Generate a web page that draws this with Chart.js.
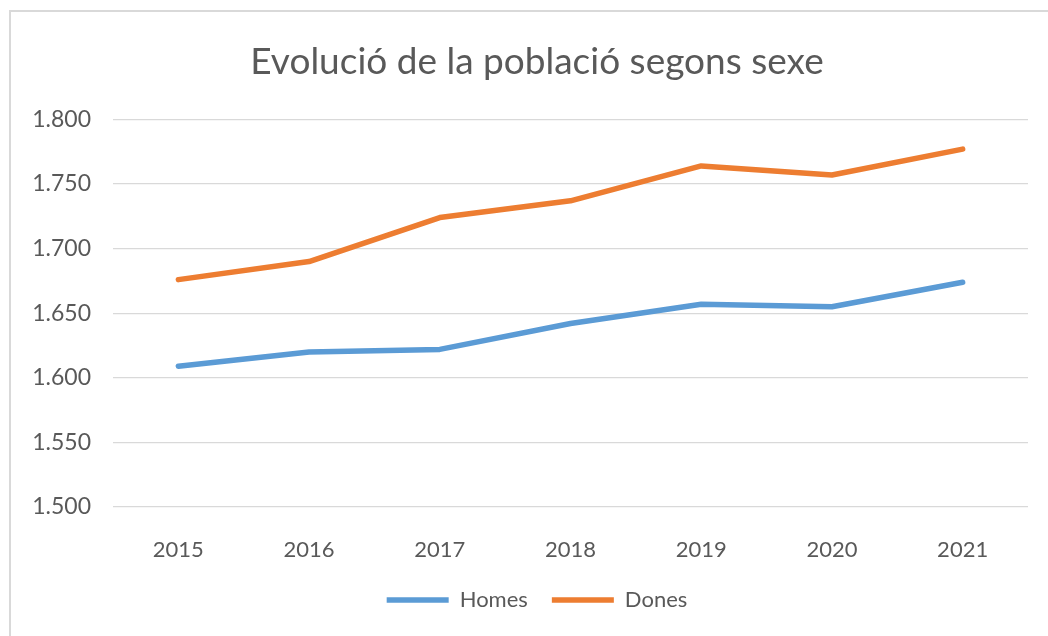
<!DOCTYPE html>
<html>
<head>
<meta charset="utf-8">
<script src="https://cdn.jsdelivr.net/npm/chart.js@4"></script>
<style>
    body { margin: 0; overflow: hidden; background: #fff; }
    #frame {
        position: absolute; left: 9px; top: 10px;
        width: 1100px; height: 700px;
        border: 2px solid #d9d9d9;
    }
    #wrap { position: absolute; left: 0; top: 0; width: 1048px; height: 636px; }
</style>
</head>
<body>
<div id="frame"></div>
<div id="wrap"><canvas id="myChart"></canvas></div>
<script>
const years = ['2015', '2016', '2017', '2018', '2019', '2020', '2021'];
const homes = [1609, 1620, 1622, 1642, 1657, 1655, 1674];
const dones = [1676, 1690, 1724, 1737, 1764, 1757, 1777];

const textColor = '#595959';
const gridColor = '#d9d9d9';
const fontFamily = 'Lato, "Open Sans", sans-serif';

function formatThousands(value) {
    return value.toLocaleString('en-US').replace(',', '.');
}

const ctx = document.getElementById('myChart').getContext('2d');
const myChart = new Chart(ctx, {
    type: 'line',
    data: {
        labels: years,
        datasets: [{
            label: 'Homes',
            data: homes,
            borderColor: '#5b9bd5',
            backgroundColor: '#5b9bd5',
            borderWidth: 5.5,
            borderCapStyle: 'round',
            borderJoinStyle: 'round',
            pointRadius: 0,
            tension: 0
        }, {
            label: 'Dones',
            data: dones,
            borderColor: '#ed7d31',
            backgroundColor: '#ed7d31',
            borderWidth: 5.5,
            borderCapStyle: 'round',
            borderJoinStyle: 'round',
            pointRadius: 0,
            tension: 0
        }]
    },
    options: {
        responsive: true,
        maintainAspectRatio: false,
        animation: false,
        layout: {
            padding: { left: 26, right: 0, top: 10, bottom: 15 }
        },
        plugins: {
            title: {
                display: true,
                text: 'Evolució de la població segons sexe',
                color: textColor,
                font: { family: fontFamily, size: 37, weight: 'normal' },
                padding: { top: 30, bottom: 35 }
            },
            legend: {
                position: 'bottom',
                labels: {
                    color: textColor,
                    font: { family: fontFamily, size: 22 },
                    usePointStyle: true,
                    pointStyle: 'line',
                    pointStyleWidth: 62,
                    padding: 24
                }
            },
            tooltip: { enabled: false }
        },
        scales: {
            x: {
                offset: true,
                grid: { display: false },
                border: { display: false },
                ticks: {
                    color: textColor,
                    font: { family: fontFamily, size: 22 },
                    padding: 22,
                    maxRotation: 0
                },
                afterFit: function (scale) {
                    scale.height = 58;
                }
            },
            y: {
                min: 1500,
                max: 1800,
                border: { display: false },
                grid: { color: gridColor, lineWidth: 1.3, drawTicks: false },
                ticks: {
                    stepSize: 50,
                    color: textColor,
                    font: { family: fontFamily, size: 23 },
                    padding: 22,
                    callback: value => formatThousands(value)
                },
                afterFit: function (scale) {
                    scale.width = 87;
                }
            },
            y2: {
                position: 'right',
                grid: { display: false },
                border: { display: false },
                ticks: { display: false },
                afterFit: function (scale) {
                    scale.width = 20;
                }
            }
        }
    }
});
</script>
</body>
</html>
